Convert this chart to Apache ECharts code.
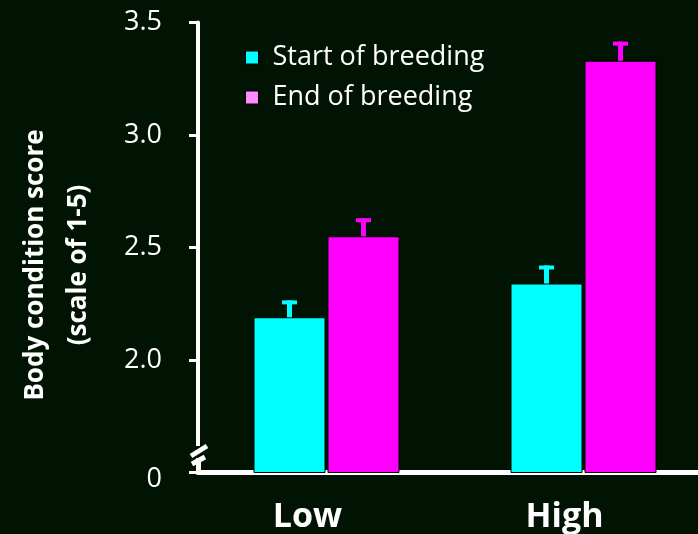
<!DOCTYPE html>
<html>
<head>
<meta charset="utf-8">
<script src="https://cdn.jsdelivr.net/npm/echarts@6/dist/echarts.min.js"></script>
<style>
html,body{margin:0;padding:0;background:#011403;}
#main{width:698px;height:534px;}
</style>
</head>
<body>
<div id="main"></div>
<script>
// Data
var categories = ['Low', 'High'];
var seriesNames = ['Start of breeding', 'End of breeding'];
var startValues = [2.19, 2.34];
var endValues = [2.55, 3.33];
var startErrors = [0.075, 0.08];
var endErrors = [0.08, 0.085];
var yTicks = [1.5, 2.0, 2.5, 3.0, 3.5];
var yTickLabels = ['0', '2.0', '2.5', '3.0', '3.5'];

var BG = '#011403';
var CYAN = '#00ffff';
var MAGENTA = '#ff00ff';
var LEGEND_PINK = '#ff8cff';
var BAR_W = 72, BAR_GAP_PX = 2;

function errorRenderer(offsetSign, color) {
  return function (params, api) {
    var cat = api.value(0), val = api.value(1), err = api.value(2);
    var base = api.coord([cat, val]);
    var top = api.coord([cat, val + err]);
    var x = base[0] + offsetSign * (BAR_W + BAR_GAP_PX) / 2;
    return {
      type: 'group',
      children: [
        {type: 'rect', shape: {x: x - 2.5, y: top[1], width: 5, height: base[1] - top[1]}, style: {fill: color}},
        {type: 'rect', shape: {x: x - 7.5, y: top[1], width: 15, height: 4}, style: {fill: color}}
      ]
    };
  };
}

var chart = echarts.init(document.getElementById('main'));
chart.setOption({
  backgroundColor: BG,
  animation: false,
  textStyle: {fontFamily: 'Open Sans'},
  grid: {left: 198, width: 514, top: 22.5, bottom: 61.5, containLabel: false, outerBoundsMode: 'none'},
  legend: {
    orient: 'vertical',
    left: 245,
    top: 43,
    padding: 0,
    itemWidth: 13,
    itemHeight: 13,
    itemGap: 11,
    icon: 'rect',
    data: [
      {name: seriesNames[0], itemStyle: {color: CYAN, borderColor: '#000', borderWidth: 1}},
      {name: seriesNames[1], itemStyle: {color: LEGEND_PINK, borderColor: '#000', borderWidth: 1}}
    ],
    textStyle: {color: '#ffffff', fontSize: 27, lineHeight: 29, fontFamily: 'Open Sans', padding: [0, 0, 0, 9]}
  },
  xAxis: {
    type: 'category',
    data: categories,
    axisLine: {lineStyle: {color: '#ffffff', width: 5}},
    axisTick: {show: false},
    axisLabel: {color: '#ffffff', fontSize: 34, fontWeight: 'bold', fontFamily: 'Open Sans', margin: 28, padding: [0, 38, 0, 0]}
  },
  yAxis: {
    type: 'value',
    min: 1.5,
    max: 3.5,
    interval: 0.5,
    splitLine: {show: false},
    axisLine: {show: true, lineStyle: {color: '#ffffff', width: 4}},
    axisTick: {show: true, length: 9, lineStyle: {color: '#ffffff', width: 3}},
    axisLabel: {
      color: '#ffffff', fontSize: 27, fontFamily: 'Open Sans', margin: 36,
      rich: {z: {color: '#ffffff', fontSize: 27, fontFamily: 'Open Sans', padding: [14, 0, 0, 0]}},
      formatter: function (v) {
        for (var i = 0; i < yTicks.length; i++) {
          if (Math.abs(yTicks[i] - v) < 1e-6) return i === 0 ? '{z|' + yTickLabels[i] + '}' : yTickLabels[i];
        }
        return '';
      }
    }
  },
  series: [
    {
      name: seriesNames[0], type: 'bar', data: startValues, barWidth: BAR_W, barGap: (BAR_GAP_PX / BAR_W * 100) + '%',
      itemStyle: {color: CYAN, borderColor: '#000', borderWidth: 1}, z: 2
    },
    {
      name: seriesNames[1], type: 'bar', data: endValues, barWidth: BAR_W,
      itemStyle: {color: MAGENTA, borderColor: '#000', borderWidth: 1}, z: 2
    },
    {
      name: 'startErr', type: 'custom', z: 3,
      renderItem: errorRenderer(-1, CYAN),
      data: categories.map(function (c, i) { return [i, startValues[i], startErrors[i]]; })
    },
    {
      name: 'endErr', type: 'custom', z: 3,
      renderItem: errorRenderer(1, MAGENTA),
      data: categories.map(function (c, i) { return [i, endValues[i], endErrors[i]]; })
    }
  ],
  graphic: [
    {type: 'rect', z: 100, shape: {x: 190, y: 446, width: 16, height: 12}, style: {fill: BG}},
    {type: 'line', z: 101, shape: {x1: 191, y1: 456, x2: 207, y2: 446}, style: {stroke: '#ffffff', lineWidth: 5}},
    {type: 'line', z: 101, shape: {x1: 192, y1: 464, x2: 205, y2: 457}, style: {stroke: '#ffffff', lineWidth: 5}},
    {type: 'rect', z: 100, shape: {x: 196, y: 458, width: 5, height: 14}, style: {fill: '#ffffff'}},
    {
      type: 'text', z: 100, x: 57, y: 265, rotation: Math.PI / 2,
      style: {
        text: 'Body condition score\n(scale of 1-5)',
        fill: '#ffffff', font: 'bold 26px "Open Sans"', lineHeight: 43,
        align: 'center', verticalAlign: 'middle'
      }
    }
  ]
});
</script>
</body>
</html>
